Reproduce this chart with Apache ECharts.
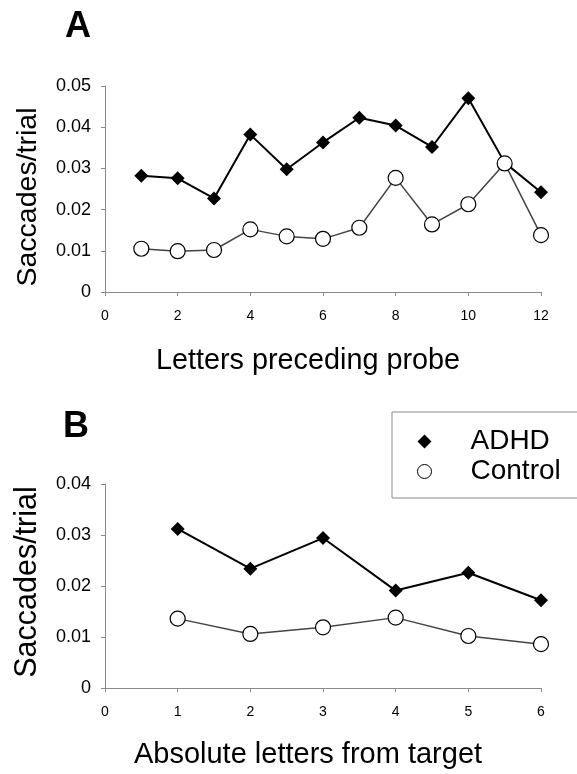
<!DOCTYPE html>
<html>
<head>
<meta charset="utf-8">
<script src="https://cdn.jsdelivr.net/npm/echarts@6/dist/echarts.min.js"></script>
<style>html,body{margin:0;padding:0;background:#fff}#chart{width:577px;height:774px}</style>
</head>
<body>
<div id="chart"></div>
<script>
// Panel A data
const lettersPreceding = [1, 2, 3, 4, 5, 6, 7, 8, 9, 10, 11, 12];
const adhdA = [0.0282, 0.0276, 0.0227, 0.0382, 0.0298, 0.0363, 0.0423, 0.0404, 0.0352, 0.0470, 0.0314, 0.0242];
const controlA = [0.0105, 0.0099, 0.0102, 0.0152, 0.0135, 0.0129, 0.0156, 0.0277, 0.0164, 0.0213, 0.0312, 0.0138];
// Panel B data
const lettersFromTarget = [1, 2, 3, 4, 5, 6];
const adhdB = [0.0312, 0.0234, 0.0294, 0.0191, 0.0226, 0.0172];
const controlB = [0.0136, 0.0106, 0.0119, 0.0138, 0.0102, 0.0086];
// Axis settings
const yMaxA = 0.05, yMaxB = 0.04, yStep = 0.01;
const xMaxA = 12, xStepA = 2, xMaxB = 6, xStepB = 1;

const FONT = 'Liberation Sans, Arial, Helvetica, sans-serif';
const pair = (xs, ys) => xs.map((x, i) => [x, ys[i]]);
const yFmt = v => (Math.abs(v) < 1e-9 ? '0' : v.toFixed(2));

function xAxis(gridIndex, max, step, name, size, gap) {
  return {
    type: 'value', gridIndex, min: 0, max, interval: step,
    name, nameLocation: 'middle', nameGap: gap,
    nameTextStyle: { fontFamily: FONT, fontSize: size, color: '#000', padding: [0, 30, 0, 0] },
    axisLine: { lineStyle: { color: '#8a8a8a', width: 1 } },
    axisTick: { show: true, length: 4, lineStyle: { color: '#8a8a8a' } },
    axisLabel: { fontFamily: FONT, fontSize: 14, color: '#000', margin: 17 },
    splitLine: { show: false }
  };
}
function yAxis(gridIndex, max, size, pad) {
  return {
    type: 'value', gridIndex, min: 0, max, interval: yStep,
    name: 'Saccades/trial', nameLocation: 'middle', nameGap: 62,
    nameTextStyle: { fontFamily: FONT, fontSize: size, color: '#000', padding: pad },
    axisLine: { show: true, lineStyle: { color: '#8a8a8a', width: 1 } },
    axisTick: { show: true, length: 4, lineStyle: { color: '#8a8a8a' } },
    axisLabel: { fontFamily: FONT, fontSize: 18, color: '#000', margin: 14, formatter: yFmt },
    splitLine: { show: false }
  };
}
function adhdSeries(idx, data) {
  return {
    name: 'ADHD', type: 'line', xAxisIndex: idx, yAxisIndex: idx, data,
    symbol: 'diamond', symbolSize: 14, z: 2,
    lineStyle: { color: '#000', width: 2 },
    itemStyle: { color: '#000', borderColor: '#000', borderWidth: 0 }
  };
}
function controlSeries(idx, data) {
  return {
    name: 'Control', type: 'line', xAxisIndex: idx, yAxisIndex: idx, data,
    symbol: 'circle', symbolSize: 15, z: 3,
    lineStyle: { color: '#444', width: 1.5 },
    itemStyle: { color: '#fff', borderColor: '#000', borderWidth: 1.2 }
  };
}

const chart = echarts.init(document.getElementById('chart'), null, { renderer: 'canvas' });
chart.setOption({
  backgroundColor: '#fff',
  animation: false,
  title: [
    { text: 'A', left: 60, top: 4, textStyle: { fontFamily: FONT, fontSize: 36, fontWeight: 'bold', color: '#000' } },
    { text: 'B', left: 58, top: 404, textStyle: { fontFamily: FONT, fontSize: 36, fontWeight: 'bold', color: '#000' } }
  ],
  legend: {
    orient: 'vertical', left: 392, top: 412,
    padding: [15, 250, 12, 25],
    borderColor: '#8a8a8a', borderWidth: 1,
    itemWidth: 14, itemHeight: 14, itemGap: 1,
    textStyle: { fontFamily: FONT, fontSize: 28, color: '#000', lineHeight: 29, padding: [0, 0, 0, 34] },
    data: [
      { name: 'ADHD', icon: 'diamond', itemStyle: { color: '#000' } },
      { name: 'Control', icon: 'circle', itemStyle: { color: '#fff', borderColor: '#000', borderWidth: 1 } }
    ]
  },
  grid: [
    { left: 105, top: 86, width: 436, height: 206 },
    { left: 105, top: 484, width: 436, height: 204 }
  ],
  xAxis: [
    xAxis(0, xMaxA, xStepA, 'Letters preceding probe', 28.8, 55),
    xAxis(1, xMaxB, xStepB, 'Absolute letters from target', 29, 52)
  ],
  yAxis: [
    yAxis(0, yMaxA, 28.5, [0, 16, 0, 0]),
    yAxis(1, yMaxB, 30.5, [0, 0, 0, 8])
  ],
  series: [
    adhdSeries(0, pair(lettersPreceding, adhdA)),
    controlSeries(0, pair(lettersPreceding, controlA)),
    adhdSeries(1, pair(lettersFromTarget, adhdB)),
    controlSeries(1, pair(lettersFromTarget, controlB))
  ]
});
</script>
</body>
</html>
